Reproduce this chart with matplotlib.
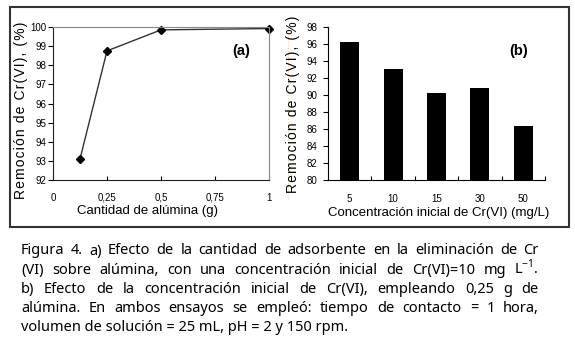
import matplotlib
matplotlib.use('Agg')
import matplotlib.pyplot as plt
from matplotlib.patches import Rectangle
from matplotlib.lines import Line2D

# Datos (a): cantidad de alúmina vs remoción
alumina_g = [0.125, 0.25, 0.5, 1.0]
remocion_a = [93.1, 98.75, 99.85, 99.92]
xticks_a = [0, 0.25, 0.5, 0.75, 1]
xticklabels_a = ['0', '0,25', '0,5', '0,75', '1']
yticks_a = [92, 93, 94, 95, 96, 97, 98, 99, 100]

# Datos (b): concentración inicial vs remoción
conc_labels = ['5', '10', '15', '30', '50']
remocion_b = [96.2, 93.1, 90.2, 90.8, 86.4]
yticks_b = [80, 82, 84, 86, 88, 90, 92, 94, 96, 98]

caption = [
    "Figura 4. a) Efecto de la cantidad de adsorbente en la eliminación de Cr",
    r"(VI) sobre alúmina, con una concentración inicial de Cr(VI)=10 mg L$^{\mathregular{-1}}$.",
    "b) Efecto de la concentración inicial de Cr(VI), empleando 0,25 g de",
    "alúmina. En ambos ensayos se empleó: tiempo de contacto = 1 hora,",
    "volumen de solución = 25 mL, pH = 2 y 150 rpm.",
]

W, H = 575, 339
narrow = ['Liberation Sans Narrow', 'Liberation Sans', 'DejaVu Sans']
plt.rcParams['font.family'] = ['Noto Sans', 'DejaVu Sans']

fig = plt.figure(figsize=(W / 100, H / 100), dpi=100)


def px(x0, y0, x1, y1):
    # caja en pixeles (origen arriba a la izquierda) -> fraccion de figura
    return [x0 / W, 1 - y1 / H, (x1 - x0) / W, (y1 - y0) / H]


# --- panel (a) ---
ax1 = fig.add_axes(px(53, 27, 269, 180))
ax1.plot(alumina_g, remocion_a, color='#333333', lw=1.0, marker='D',
         ms=4, mfc='black', mec='black', clip_on=False)
ax1.set_xlim(0, 1)
ax1.set_ylim(92, 100)
ax1.set_xticks(xticks_a)
ax1.set_xticklabels(xticklabels_a, family=narrow, fontsize=7)
ax1.set_yticks(yticks_a)
ax1.set_yticklabels([str(v) for v in yticks_a], family=narrow, fontsize=7)
ax1.tick_params(axis='y', direction='out', length=3.5, width=0.8, pad=1)
ax1.tick_params(axis='x', direction='in', length=3, width=0.8, pad=9)
for s in ['left', 'bottom']:
    ax1.spines[s].set_color('#222222')
for s in ['top', 'right']:
    ax1.spines[s].set_color('#888888')
ax1.text(0.87, 0.84, '(a)', transform=ax1.transAxes, ha='center', va='center',
         family=narrow, fontweight='bold', fontsize=10.5)

# --- panel (b) ---
ax2 = fig.add_axes(px(328, 27, 545, 180))
xpos = list(range(len(conc_labels)))
ax2.bar(xpos, remocion_b, width=0.44, color='black')
ax2.set_xlim(-0.5, len(conc_labels) - 0.5)
ax2.set_ylim(80, 98)
ax2.set_xticks(xpos)
ax2.set_xticklabels(conc_labels, family=narrow, fontsize=7)
ax2.set_xticks([p + 0.5 for p in xpos], minor=True)
ax2.set_yticks(yticks_b)
ax2.set_yticklabels([str(v) for v in yticks_b], family=narrow, fontsize=7)
ax2.tick_params(axis='x', which='major', length=0, pad=10)
ax2.tick_params(axis='x', which='minor', direction='in', length=3, width=0.8)
ax2.tick_params(axis='y', direction='out', length=3.5, width=0.8, pad=4)
ax2.spines['top'].set_visible(False)
ax2.spines['right'].set_visible(False)
ax2.text(0.88, 0.84, '(b)', transform=ax2.transAxes, ha='center', va='center',
         family=narrow, fontweight='bold', fontsize=10.5)


def ptext(x, y, s, **kw):
    return fig.text(x / W, 1 - y / H, s, **kw)


# etiquetas de ejes (con algo de espaciado entre letras)
ylab = '\u200a'.join('Remoción de Cr(VI), (%)')
ptext(21, 110, ylab, rotation=90, ha='center', va='center',
      family=['Liberation Sans', 'DejaVu Sans'], fontsize=10)
ptext(293, 104, ylab, rotation=90, ha='center', va='center',
      family=['Liberation Sans', 'DejaVu Sans'], fontsize=10)
ptext(147.5, 211, 'Cantidad de alúmina (g)', ha='center', va='center',
      family=narrow, fontsize=9.5)
ptext(438.5, 213, 'Concentración inicial de Cr(VI) (mg/L)', ha='center', va='center',
      family=narrow, fontsize=9.5)

# marco y linea separadora
fig.patches.append(Rectangle((10 / W, 1 - 227 / H), 559 / W, 220 / H,
                             transform=fig.transFigure, fill=False,
                             ec='#333333', lw=1.5))
fig.lines.append(Line2D([288 / W, 288 / W], [1 - 27 / H, 1 - 200 / H],
                        transform=fig.transFigure, color='#f0d2a8',
                        lw=0.8, ls=':'))

# pie de figura justificado
left, right = 21, 539
base0, step = 254.5, 19.2
fsize = 10.5
renderer = fig.canvas.get_renderer()
for i, line in enumerate(caption):
    y = base0 + i * step
    if i == len(caption) - 1:
        ptext(left, y, line, ha='left', va='baseline', fontsize=fsize)
        continue
    words = line.split(' ')
    objs = [ptext(left, y, w, ha='left', va='baseline', fontsize=fsize) for w in words]
    widths = [o.get_window_extent(renderer).width for o in objs]
    gap = (right - left - sum(widths)) / (len(words) - 1)
    x = left
    for o, wd in zip(objs, widths):
        o.set_x(x / W)
        x += wd + gap

fig.savefig('out.png', dpi=100)
